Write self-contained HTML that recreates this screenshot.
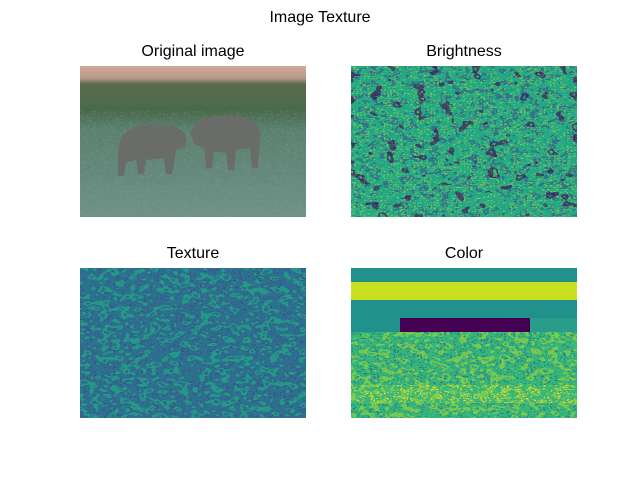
<!DOCTYPE html>
<html>
<head>
<meta charset="utf-8">
<style>
  html,body{margin:0;padding:0;background:#fff;}
  #fig{position:relative;width:640px;height:480px;font-family:"Liberation Sans","DejaVu Sans",sans-serif;color:#000;}
  .title{position:absolute;font-size:16px;text-align:center;white-space:nowrap;transform:translateX(-50%);}
</style>
</head>
<body>
<div id="fig">
  <div class="title" style="left:320px;top:9px;">Image Texture</div>
  <div class="title" style="left:193px;top:43px;">Original image</div>
  <div class="title" style="left:464px;top:43px;">Brightness</div>
  <div class="title" style="left:193px;top:245px;">Texture</div>
  <div class="title" style="left:464px;top:245px;">Color</div>

  <svg width="640" height="480" style="position:absolute;left:0;top:0">
    <defs>
      <filter id="noiseA" x="0" y="0" width="100%" height="100%">
        <feTurbulence type="fractalNoise" baseFrequency="0.1 0.16" numOctaves="2" seed="3" result="t"/>
        <feComponentTransfer in="t" result="n">
          <feFuncA type="discrete" tableValues="0 0 1 0 0 1 0"/>
        </feComponentTransfer>
        <feComposite in="SourceGraphic" in2="n" operator="in"/>
      </filter>
      <filter id="noiseB" x="0" y="0" width="100%" height="100%">
        <feTurbulence type="fractalNoise" baseFrequency="0.3 0.45" numOctaves="2" seed="7" result="t"/>
        <feComponentTransfer in="t" result="n">
          <feFuncA type="discrete" tableValues="0 1 0 0 1 0"/>
        </feComponentTransfer>
        <feComposite in="SourceGraphic" in2="n" operator="in"/>
      </filter>
      <filter id="noiseC" x="0" y="0" width="100%" height="100%">
        <feTurbulence type="fractalNoise" baseFrequency="0.07 0.1" numOctaves="2" seed="11" result="t"/>
        <feComponentTransfer in="t" result="n">
          <feFuncA type="discrete" tableValues="0 0 1 0 0 0 0 0 1"/>
        </feComponentTransfer>
        <feComposite in="SourceGraphic" in2="n" operator="in"/>
      </filter>
      <linearGradient id="origGrad" x1="0" y1="0" x2="0" y2="1">
        <stop offset="0" stop-color="#d0a896"/>
        <stop offset="0.08" stop-color="#b89a88"/>
        <stop offset="0.12" stop-color="#5a6a4e"/>
        <stop offset="0.3" stop-color="#4a6a4a"/>
        <stop offset="0.42" stop-color="#5a8070"/>
        <stop offset="1" stop-color="#6e9288"/>
      </linearGradient>
    </defs>

    <g>
      <rect x="80" y="66" width="226" height="151" fill="url(#origGrad)"/>
      <rect x="80" y="110" width="226" height="107" fill="#86a89c" filter="url(#noiseB)" opacity="0.25"/>
      <g fill="#6a6c6a">
        <path d="M118 150 Q120 130 140 126 Q160 122 178 128 L186 134 L186 146 L176 150 L172 174 L166 174 L164 158 L146 160 L144 174 L138 174 L136 160 L126 162 L124 176 L118 176 Z"/>
        <path d="M190 132 L198 120 Q215 114 240 116 Q258 118 260 134 L258 168 L252 168 L250 148 L236 150 L234 170 L228 170 L226 152 L214 152 L212 168 L206 168 L204 148 L194 144 Z"/>
      </g>
    </g>

    <g>
      <rect x="351" y="66" width="226" height="151" fill="#22a884"/>
      <rect x="351" y="66" width="226" height="151" fill="#31688e" filter="url(#noiseA)" opacity="0.8"/>
      <rect x="351" y="66" width="226" height="151" fill="#7ad151" filter="url(#noiseB)" opacity="0.6"/>
      <rect x="351" y="66" width="226" height="151" fill="#440154" filter="url(#noiseC)" opacity="0.6"/>
      <rect x="351" y="66" width="226" height="151" fill="#fde725" filter="url(#noiseB)" opacity="0.15"/>
    </g>

    <g>
      <rect x="80" y="268" width="226" height="150" fill="#2c728e"/>
      <rect x="80" y="268" width="226" height="150" fill="#3b528b" filter="url(#noiseB)"/>
      <rect x="80" y="268" width="226" height="150" fill="#21a585" filter="url(#noiseA)" opacity="0.8"/>
    </g>

    <g>
      <rect x="351" y="268" width="226" height="150" fill="#35b779"/>
      <rect x="351" y="330" width="226" height="88" fill="#2c728e" filter="url(#noiseB)" opacity="0.8"/>
      <rect x="351" y="330" width="226" height="88" fill="#bddf26" filter="url(#noiseA)" opacity="0.5"/>
      <rect x="351" y="268" width="226" height="14" fill="#21918c"/>
      <rect x="351" y="282" width="226" height="18" fill="#c8e020"/>
      <rect x="351" y="300" width="226" height="18" fill="#21918c"/>
      <rect x="400" y="318" width="130" height="14" fill="#440154"/>
      <rect x="351" y="318" width="49" height="14" fill="#21918c"/>
      <rect x="530" y="318" width="47" height="14" fill="#2a9d8a"/>
      <rect x="351" y="385" width="226" height="18" fill="#fde725" filter="url(#noiseB)" opacity="0.8"/>
    </g>
  </svg>
</div>
</body>
</html>
